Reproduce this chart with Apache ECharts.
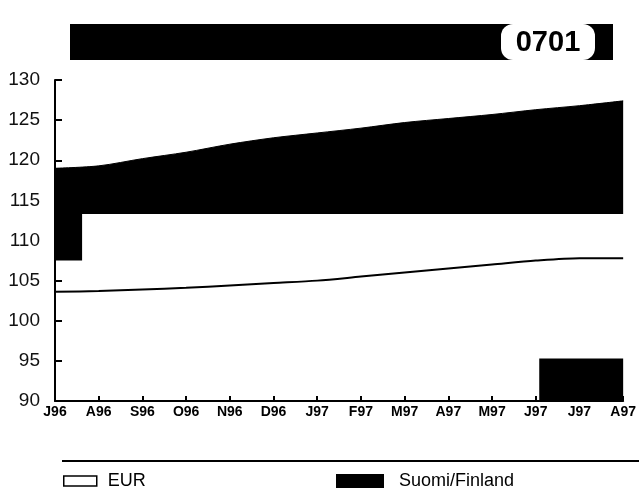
<!DOCTYPE html>
<html>
<head>
<meta charset="utf-8">
<script src="https://cdn.jsdelivr.net/npm/echarts@6/dist/echarts.min.js"></script>
<style>
html,body{margin:0;padding:0;background:#fff;}
#c{width:639px;height:495px;}
</style>
</head>
<body>
<div id="c"></div>
<script>
var categories = ['J96','A96','S96','O96','N96','D96','J97','F97','M97','A97','M97','J97','J97','A97'];
var eurValues = [103.6, 103.7, 103.9, 104.1, 104.4, 104.7, 105.0, 105.5, 106.0, 106.5, 107.0, 107.5, 107.8, 107.8];
var finlandValues = [119.0, 119.3, 120.2, 121.0, 122.0, 122.8, 123.4, 124.0, 124.7, 125.2, 125.7, 126.3, 126.8, 127.4];
var finlandBase = 113.3;
var yTicks = [90, 95, 100, 105, 110, 115, 120, 125, 130];
// scanned dark blocks: [xStart, xEnd, yLow, yHigh] in category-index units
var scanBlocks = [[0, 0.62, 107.5, 113.3], [11.08, 13, 90, 95.3]];
var headerCode = '0701';

var chart = echarts.init(document.getElementById('c'), null, {renderer: 'canvas'});
var font = 'Liberation Sans, Arial, Helvetica, sans-serif';
chart.setOption({
  animation: false,
  backgroundColor: '#fff',
  grid: {left: 55, right: 15, top: 80, bottom: 94, containLabel: false},
  xAxis: [{
    type: 'category',
    data: categories,
    boundaryGap: false,
    axisLine: {lineStyle: {color: '#000', width: 2}},
    axisTick: {inside: true, length: 5, lineStyle: {color: '#000', width: 2}},
    axisLabel: {color: '#000', fontFamily: font, fontWeight: 'bold', fontSize: 14, margin: 4, interval: 0},
    splitLine: {show: false}
  }, {
    type: 'value', min: 0, max: 13, show: false
  }],
  yAxis: {
    type: 'value',
    min: yTicks[0], max: yTicks[yTicks.length - 1], interval: 5,
    axisLine: {show: true, lineStyle: {color: '#000', width: 2}},
    axisTick: {show: true, inside: true, length: 7, lineStyle: {color: '#000', width: 2}},
    axisLabel: {color: '#111', fontFamily: font, fontSize: 19, margin: 15},
    splitLine: {show: false}
  },
  legend: [{
    data: [{name: 'EUR', icon: 'rect', itemStyle: {color: '#fff', borderColor: '#000', borderWidth: 1.5}}],
    left: 58, top: 467, itemWidth: 33, itemHeight: 10, itemGap: 12,
    textStyle: {fontFamily: font, fontSize: 18, color: '#000', padding: [0, 0, 0, 6]}
  }, {
    data: [{name: 'Suomi/Finland', icon: 'rect'}],
    left: 331, top: 467, itemWidth: 48, itemHeight: 14, itemGap: 14,
    textStyle: {fontFamily: font, fontSize: 18, color: '#000', padding: [0, 0, 0, 10]}
  }],
  graphic: [
    {type: 'rect', shape: {x: 70, y: 24, width: 543, height: 36}, style: {fill: '#000'}},
    {type: 'rect', shape: {x: 501, y: 24, width: 94, height: 36, r: 12}, style: {fill: '#fff'}},
    {type: 'text', style: {x: 548, y: 43, text: headerCode, fill: '#000', font: 'bold 29px Liberation Sans, Arial, sans-serif', textAlign: 'center', textVerticalAlign: 'middle'}},
    {type: 'rect', shape: {x: 62, y: 460, width: 577, height: 2}, style: {fill: '#000'}}
  ],
  series: [{
    name: 'Suomi/Finland',
    type: 'line',
    data: finlandValues,
    smooth: 0.3,
    symbol: 'none',
    color: '#000',
    lineStyle: {color: '#000', width: 1},
    areaStyle: {color: '#000', opacity: 1, origin: finlandBase},
    z: 2
  }, {
    name: 'EUR',
    type: 'line',
    data: eurValues,
    smooth: 0.3,
    symbol: 'none',
    color: '#000',
    lineStyle: {color: '#000', width: 2},
    z: 3
  }, {
    name: 'scan',
    type: 'custom',
    xAxisIndex: 1,
    data: scanBlocks,
    renderItem: function (params, api) {
      var p1 = api.coord([api.value(0), api.value(3)]);
      var p2 = api.coord([api.value(1), api.value(2)]);
      return {type: 'rect', shape: {x: p1[0], y: p1[1], width: p2[0] - p1[0], height: p2[1] - p1[1]}, style: {fill: '#000'}};
    },
    encode: {x: [0, 1], y: [2, 3]},
    silent: true,
    z: 1
  }]
});
</script>
</body>
</html>
